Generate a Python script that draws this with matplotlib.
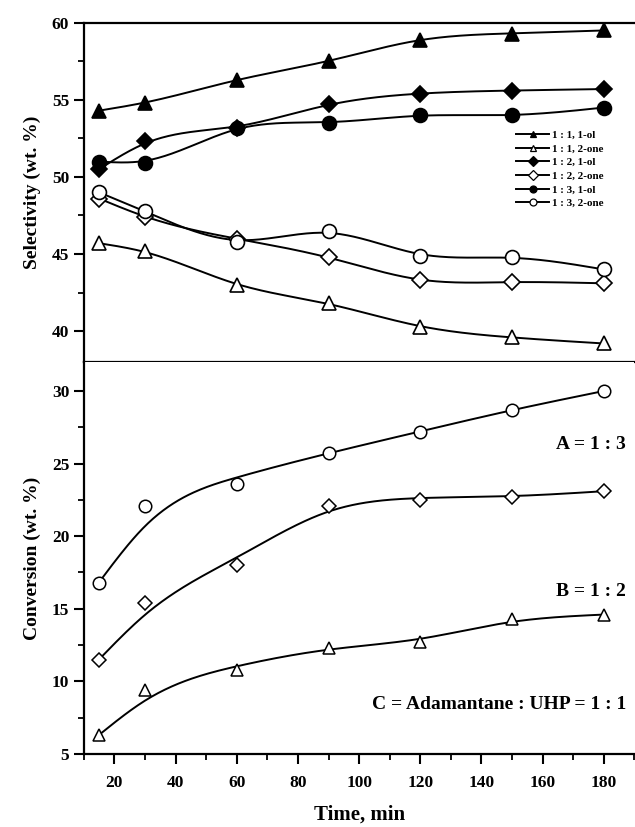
import numpy as np
import matplotlib

matplotlib.use('Agg')
import matplotlib.pyplot as plt
from matplotlib.ticker import MultipleLocator

# Data
time_min = [15, 30, 60, 90, 120, 150, 180]

sel_11_ol = [54.3, 54.8, 56.3, 57.5, 58.9, 59.3, 59.5]
sel_11_one = [45.7, 45.2, 43.0, 41.8, 40.3, 39.6, 39.2]
sel_12_ol = [50.5, 52.3, 53.2, 54.7, 55.4, 55.6, 55.7]
sel_12_one = [48.6, 47.4, 46.0, 44.8, 43.3, 43.2, 43.1]
sel_13_ol = [51.0, 50.9, 53.2, 53.5, 54.0, 54.0, 54.5]
sel_13_one = [49.0, 47.8, 45.8, 46.5, 44.9, 44.8, 44.0]

conv_A = [16.8, 22.1, 23.6, 25.7, 27.2, 28.7, 30.0]
conv_B = [11.5, 15.4, 18.0, 22.1, 22.5, 22.7, 23.1]
conv_C = [6.3, 9.4, 10.8, 12.3, 12.7, 14.3, 14.6]

sel_labels = ['1 : 1, 1-ol', '1 : 1, 2-one', '1 : 2, 1-ol',
              '1 : 2, 2-one', '1 : 3, 1-ol', '1 : 3, 2-one']
conv_labels = ['A = 1 : 3', 'B = 1 : 2', 'C = Adamantane : UHP = 1 : 1']

plt.rcParams['font.family'] = ['Liberation Serif', 'DejaVu Serif']
plt.rcParams['font.weight'] = 'bold'
plt.rcParams['axes.labelweight'] = 'bold'
plt.rcParams['axes.linewidth'] = 1.6


def smooth_spline(x, y, lam, xs, end_weight=30.0):
    # weighted Reinsch smoothing spline (natural cubic), ends held close to the data
    x = np.asarray(x, float)
    y = np.asarray(y, float)
    n = len(x)
    h = np.diff(x)
    w_inv = np.ones(n)
    w_inv[0] = w_inv[-1] = 1.0 / end_weight
    Q = np.zeros((n, n - 2))
    R = np.zeros((n - 2, n - 2))
    for j in range(1, n - 1):
        Q[j - 1, j - 1] = 1 / h[j - 1]
        Q[j, j - 1] = -1 / h[j - 1] - 1 / h[j]
        Q[j + 1, j - 1] = 1 / h[j]
        R[j - 1, j - 1] = (h[j - 1] + h[j]) / 3
        if j < n - 2:
            R[j - 1, j] = h[j] / 6
            R[j, j - 1] = h[j] / 6
    Wi = np.diag(w_inv)
    gam = np.linalg.solve(R + lam * Q.T @ Wi @ Q, Q.T @ y)
    a = y - lam * Wi @ Q @ gam
    g = np.concatenate([[0.0], gam, [0.0]])
    idx = np.clip(np.searchsorted(x, xs) - 1, 0, n - 2)
    xl, xr, hh = x[idx], x[idx + 1], h[idx]
    s = ((xr - xs) * a[idx] + (xs - xl) * a[idx + 1]) / hh
    s -= (xs - xl) * (xr - xs) / 6 * ((1 + (xs - xl) / hh) * g[idx + 1] + (1 + (xr - xs) / hh) * g[idx])
    return s


fig = plt.figure(figsize=(6.35, 8.27), dpi=100)
ax1 = fig.add_axes([0.132, 0.5623, 0.867, 0.4102])
ax2 = fig.add_axes([0.132, 0.0883, 0.867, 0.474])

xs = np.linspace(15, 180, 300)

top_series = [
    (sel_11_ol, '^', 'black'),
    (sel_11_one, '^', 'white'),
    (sel_12_ol, 'D', 'black'),
    (sel_12_one, 'D', 'white'),
    (sel_13_ol, 'o', 'black'),
    (sel_13_one, 'o', 'white'),
]
for (vals, mk, fc), lab in zip(top_series, sel_labels):
    ax1.plot(xs, smooth_spline(time_min, vals, 200, xs), color='black', lw=1.4)
    ms = 8.5 if mk == 'D' else 10
    ax1.plot(time_min, vals, ls='none', marker=mk, ms=ms, mfc=fc, mec='black', mew=1.2, zorder=3)
    # proxy for the legend
    ax1.plot([], [], color='black', lw=1.4, marker=mk, ms=5, mfc=fc, mec='black', mew=0.9, label=lab)

ax1.legend(loc='upper left', bbox_to_anchor=(0.775, 0.7), frameon=False, fontsize=8,
           handlelength=3.0, handletextpad=0.2, labelspacing=0.35, borderpad=0)

bottom_series = [(conv_A, 'o'), (conv_B, 'D'), (conv_C, '^')]
for vals, mk in bottom_series:
    ax2.plot(xs, smooth_spline(time_min, vals, 1500, xs), color='black', lw=1.4)
    ms = 7.5 if mk == 'D' else 9
    ax2.plot(time_min, vals, ls='none', marker=mk, ms=ms, mfc='white', mec='black', mew=1.1, zorder=3)

ax2.text(0.985, 0.79, conv_labels[0], transform=ax2.transAxes, ha='right', va='center', fontsize=14)
ax2.text(0.985, 0.415, conv_labels[1], transform=ax2.transAxes, ha='right', va='center', fontsize=14)
ax2.text(0.985, 0.125, conv_labels[2], transform=ax2.transAxes, ha='right', va='center', fontsize=14)

for ax in (ax1, ax2):
    ax.set_xlim(10, 190)
    ax.spines['right'].set_visible(False)
    ax.tick_params(axis='y', which='major', direction='out', length=7, width=1.5, labelsize=12.5)
    ax.tick_params(axis='y', which='minor', direction='out', length=4, width=1.3)
    ax.tick_params(axis='x', which='major', direction='out', length=7, width=1.5, labelsize=12.5, pad=8)
    ax.tick_params(axis='x', which='minor', direction='out', length=4, width=1.3)
    ax.xaxis.set_major_locator(MultipleLocator(20))
    ax.xaxis.set_minor_locator(MultipleLocator(10))

ax1.set_ylim(38, 60)
ax1.yaxis.set_major_locator(MultipleLocator(5))
ax1.yaxis.set_minor_locator(MultipleLocator(2.5))
ax1.tick_params(axis='x', which='both', bottom=False, labelbottom=False)
ax1.set_ylabel('Selectivity (wt. %)', fontsize=14, labelpad=8)

ax2.set_ylim(5, 32)
ax2.yaxis.set_major_locator(MultipleLocator(5))
ax2.yaxis.set_minor_locator(MultipleLocator(2.5))
ax2.spines['top'].set_visible(False)
ax2.set_ylabel('Conversion (wt. %)', fontsize=14, labelpad=8)
ax2.set_xlabel('Time, min', fontsize=15, labelpad=10)

fig.savefig('out.png', dpi=100)
